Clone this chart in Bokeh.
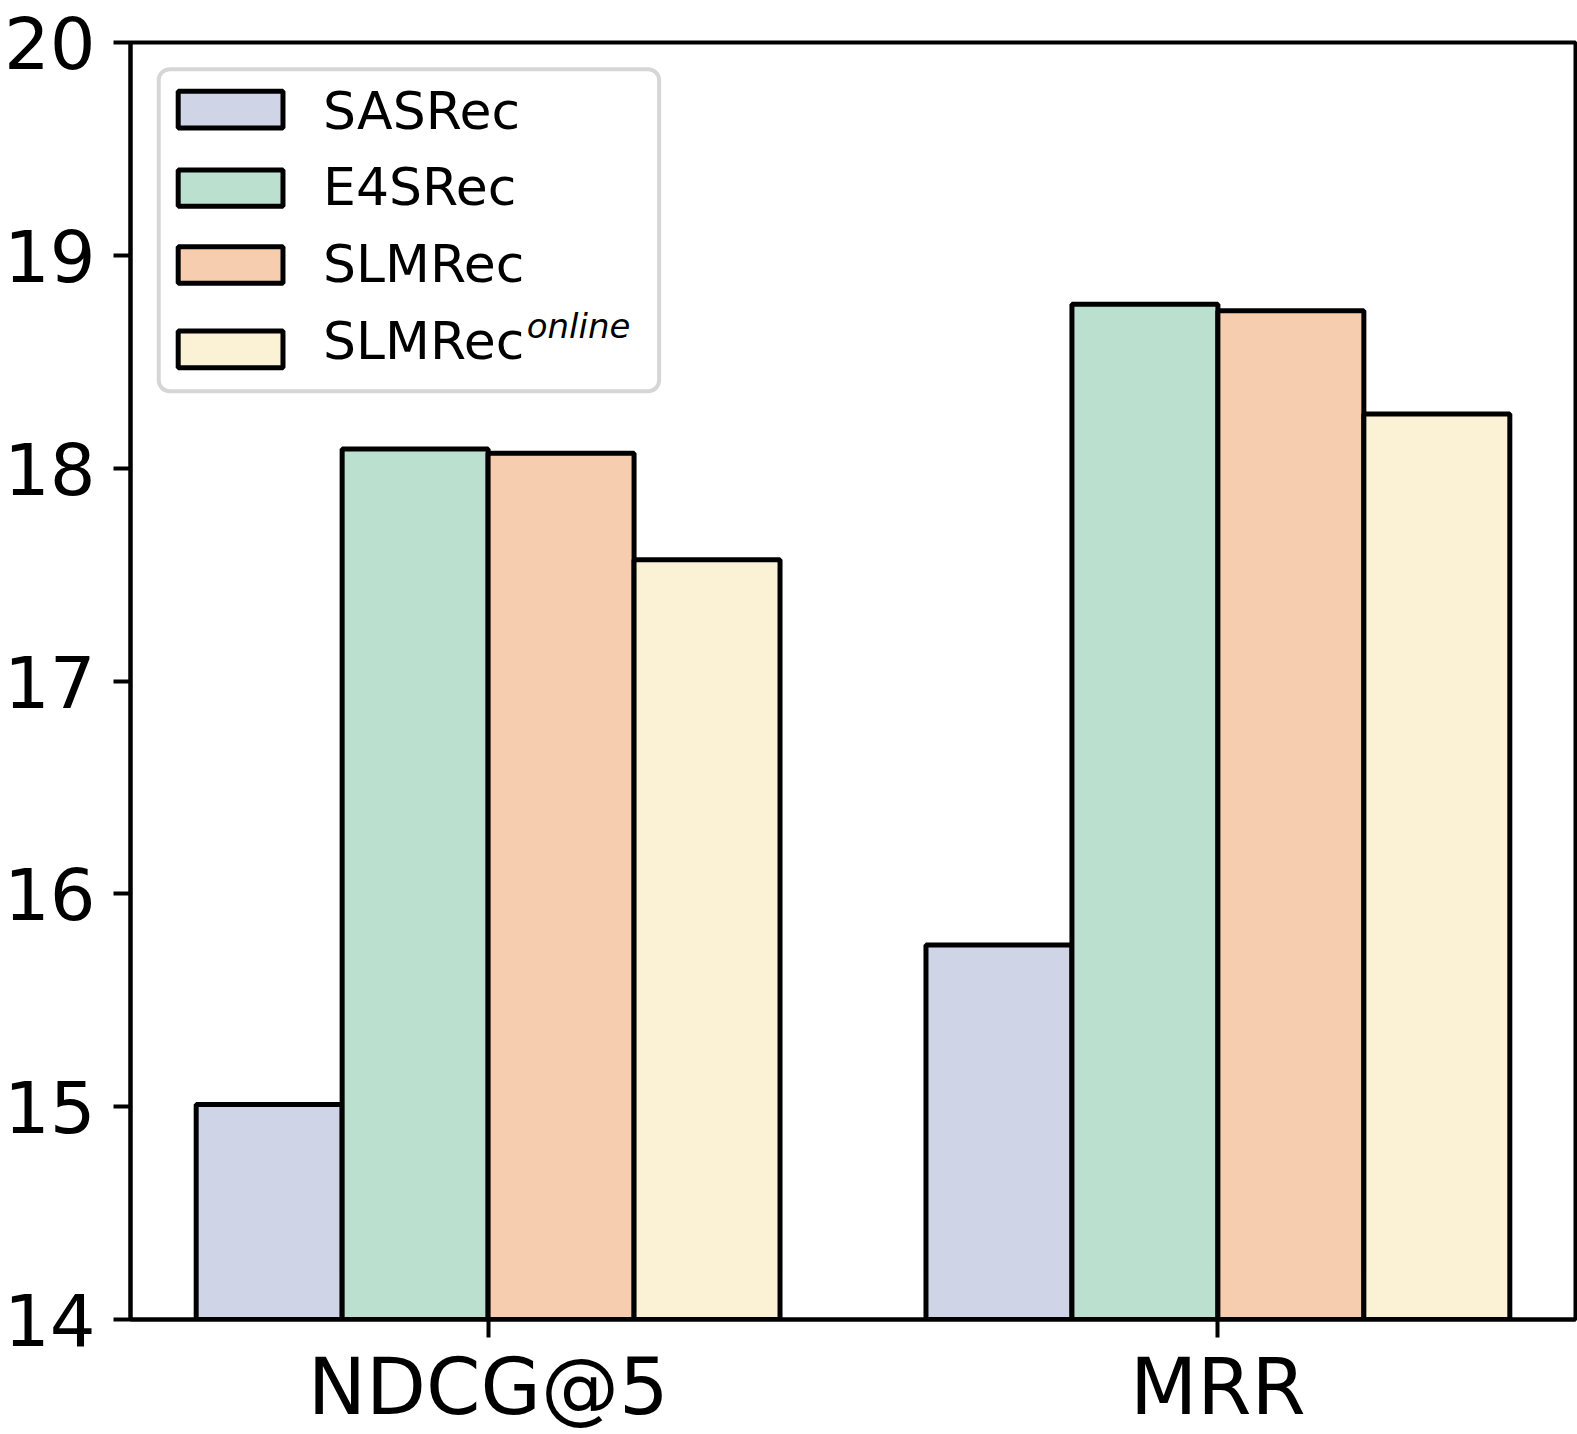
from bokeh.plotting import figure
from bokeh.models import ColumnDataSource, Range1d, FixedTicker, BoxAnnotation, Label
from bokeh.transform import dodge
from bokeh.embed import file_html
from bokeh.resources import INLINE

# ---------------- data ----------------
metrics = ["NDCG@5", "MRR"]
series_names = ["SASRec", "E4SRec", "SLMRec", "SLMRec"]
series_sup = ["", "", "", "online"]
sasrec = [15.01, 15.76]
e4srec = [18.09, 18.77]
slmrec = [18.07, 18.74]
slmrec_online = [17.57, 18.255]
colors = ["#cfd5e7", "#bce0cf", "#f6cdaf", "#fbf1d5"]
y_ticks = [14, 15, 16, 17, 18, 19, 20]

values = [sasrec, e4srec, slmrec, slmrec_online]
offsets = [-0.3, -0.1, 0.1, 0.3]
BAR_W = 0.2
FONT = "DejaVu Sans"

# ---------------- layout ----------------
W, H = 1577, 1434
FL, FR, FT, FB = 127, 1575, 42, 1320
X0, X1, Y0, Y1 = -0.49, 1.49, 14, 20
FW, FH = FR - FL, FB - FT

p = figure(width=W, height=H, output_backend="svg", toolbar_location=None,
           x_range=Range1d(X0, X1), y_range=Range1d(Y0, Y1),
           min_border_left=FL, min_border_right=W - FR, min_border_top=FT,
           min_border_bottom=H - FB)
p.background_fill_color = "white"
p.border_fill_color = "white"
p.outline_line_color = "black"
p.outline_line_width = 4
p.xgrid.visible = False
p.ygrid.visible = False

idx = list(range(len(metrics)))
for vals, off, col in zip(values, offsets, colors):
    src = ColumnDataSource(dict(idx=idx, top=vals))
    p.vbar(x=dodge("idx", off, range=p.x_range), top="top", bottom=0, width=BAR_W,
           source=src, fill_color=col, line_color="black", line_width=5)

# axes
p.xaxis.ticker = FixedTicker(ticks=idx)
p.xaxis.major_label_overrides = {i: m for i, m in zip(idx, metrics)}
p.yaxis.ticker = FixedTicker(ticks=y_ticks)
for ax in (p.xaxis, p.yaxis):
    ax.axis_line_width = 4
    ax.major_tick_line_width = 4
    ax.major_tick_in = 0
    ax.minor_tick_line_color = None
    ax.major_label_text_font = FONT
    ax.major_label_text_color = "black"
p.xaxis.major_tick_out = 18
p.yaxis.major_tick_out = 17
p.xaxis.major_label_text_font_size = "78px"
p.yaxis.major_label_text_font_size = "72px"
p.xaxis.major_label_standoff = 4
p.yaxis.major_label_standoff = 18

# ---------------- legend (drawn as annotations) ----------------
# positions given in reference pixels, relative to the frame's top-left corner (127, 28)
def xd(px):
    return X0 + (px - 127) / (FW / (X1 - X0))

def yd(py):
    return Y1 - (py - 28) / (FH / (Y1 - Y0))

p.add_layout(BoxAnnotation(left=xd(155.3), right=xd(656.7), top=yd(54.7), bottom=yd(377),
                           fill_color="white", fill_alpha=0.8, line_color="#d6d6d6",
                           line_alpha=1.0, line_width=4, border_radius=11))

LEG_SIZE = 52
SUP_SIZE = 34
sw_rows = [(76.8, 113.5), (155.7, 191.9), (232.4, 268.9), (316.8, 353.4)]
baselines = [115.5, 191.5, 268.0, 345.5]
for (t, b), base, name, sup, col in zip(sw_rows, baselines, series_names, series_sup, colors):
    p.add_layout(BoxAnnotation(left=xd(174.8), right=xd(279.8), top=yd(t), bottom=yd(b),
                               fill_color=col, fill_alpha=1.0, line_color="black",
                               line_alpha=1.0, line_width=5))
    p.add_layout(Label(x=xd(320), y=yd(base - 0.36 * LEG_SIZE), text=name, text_font=FONT,
                       text_font_size=f"{LEG_SIZE}px", text_baseline="middle",
                       text_align="left", text_color="black"))
    if sup:
        p.add_layout(Label(x=xd(524), y=yd(324 - 0.36 * SUP_SIZE), text=sup, text_font=FONT,
                           text_font_size=f"{SUP_SIZE}px", text_font_style="italic",
                           text_baseline="middle", text_align="left",
                           text_color="black"))

open("out.html", "w").write(file_html(p, INLINE))
